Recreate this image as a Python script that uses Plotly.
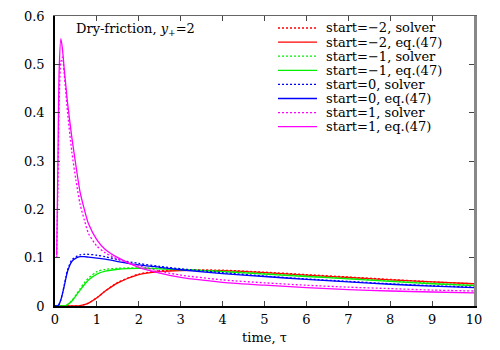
import plotly.graph_objects as go

# ---------------- data ----------------
tau = [0, 0.04, 0.07, 0.1, 0.14, 0.18, 0.22, 0.26, 0.3, 0.4, 0.5, 0.6, 0.7, 0.8,
       1.0, 1.2, 1.5, 2, 2.5, 3, 4, 5, 6, 7, 8, 9, 10]

red_solver = [0, 0, 0, 0, 0, 0, 0, 0, 0, 0, 0, 0.001, 0.003, 0.006, 0.017, 0.031,
              0.049, 0.066, 0.073, 0.075, 0.074, 0.070, 0.065, 0.060, 0.055, 0.050, 0.046]
red_eq47 = [0, 0, 0, 0, 0, 0, 0, 0, 0, 0, 0, 0.001, 0.003, 0.006, 0.017, 0.031,
            0.048, 0.065, 0.071, 0.0735, 0.073, 0.069, 0.064, 0.059, 0.054, 0.050, 0.046]
green_solver = [0, 0, 0, 0, 0, 0, 0, 0.001, 0.003, 0.011, 0.023, 0.036, 0.048, 0.058,
                0.071, 0.076, 0.078, 0.079, 0.078, 0.076, 0.072, 0.067, 0.062, 0.057, 0.052, 0.047, 0.043]
green_eq47 = [0, 0, 0, 0, 0, 0, 0, 0.001, 0.003, 0.010, 0.021, 0.033, 0.044, 0.054,
              0.066, 0.072, 0.076, 0.078, 0.077, 0.075, 0.071, 0.066, 0.061, 0.056, 0.051, 0.046, 0.042]
blue_solver = [0, 0, 0.001, 0.004, 0.013, 0.027, 0.043, 0.060, 0.075, 0.095, 0.102, 0.106,
               0.107, 0.107, 0.105, 0.102, 0.096, 0.088, 0.082, 0.077, 0.069, 0.062, 0.056,
               0.051, 0.046, 0.042, 0.039]
blue_eq47 = [0, 0, 0.001, 0.004, 0.013, 0.026, 0.041, 0.057, 0.072, 0.092, 0.099, 0.102,
             0.102, 0.101, 0.099, 0.097, 0.092, 0.085, 0.080, 0.075, 0.067, 0.061, 0.055,
             0.050, 0.045, 0.041, 0.038]
magenta_solver = [None, 0.10, 0.25, 0.42, 0.505, 0.515, 0.48, 0.44, 0.40, 0.32, 0.26, 0.21,
                  0.178, 0.150, 0.124, 0.110, 0.097, 0.083, 0.072, 0.064, 0.054, 0.048,
                  0.043, 0.039, 0.036, 0.033, 0.031]
magenta_eq47 = [None, 0.105, 0.30, 0.49, 0.553, 0.53, 0.49, 0.455, 0.42, 0.35, 0.29, 0.235,
                0.20, 0.17, 0.137, 0.117, 0.100, 0.080, 0.068, 0.059, 0.049, 0.043, 0.038,
                0.034, 0.031, 0.029, 0.027]

series_names = ["start=\u22122, solver", "start=\u22122, eq.(47)",
                "start=\u22121, solver", "start=\u22121, eq.(47)",
                "start=0, solver", "start=0, eq.(47)",
                "start=1, solver", "start=1, eq.(47)"]
series_values = [red_solver, red_eq47, green_solver, green_eq47,
                 blue_solver, blue_eq47, magenta_solver, magenta_eq47]
series_colors = ["#ff0000", "#ff0000", "#00f000", "#00f000",
                 "#0000ff", "#0000ff", "#ff00ff", "#ff00ff"]
series_dash = ["2px,2px", "solid"] * 4

x_ticks = list(range(0, 11))
y_ticks = [0, 0.1, 0.2, 0.3, 0.4, 0.5, 0.6]
y_tick_labels = ["0", "0.1", "0.2", "0.3", "0.4", "0.5", "0.6"]

title_text = "Dry-friction, <i>y</i><sub>+</sub>=2"
x_title = "time, \u03c4"

FONT = "DejaVu Serif"
FS = 13

fig = go.Figure()
for name, vals, col, dash in zip(series_names, series_values, series_colors, series_dash):
    fig.add_trace(go.Scatter(x=tau, y=vals, mode="lines", name=name,
                             line=dict(color=col, width=1.3, dash=dash,
                                       shape="spline", smoothing=0.7),
                             showlegend=False))
# empty trace so that the mirrored (top/right) frame axes are drawn
fig.add_trace(go.Scatter(x=[None], y=[None], xaxis="x2", yaxis="y2", mode="lines",
                         showlegend=False, hoverinfo="skip"))

# page body has an 8px margin -> figure is 492x342 so that the page is 500x350
OFF = 8
W, H = 500 - OFF, 350 - OFF
ml, mr, mt, mb = 55 - OFF, 26, 16 - OFF, 44
pw, ph = W - ml - mr, H - mt - mb
def px2paper_x(px):
    return (px - OFF - ml) / pw
def py2paper_y(py):
    return (H - mb - (py - OFF)) / ph

leg_top, leg_step = 28, 14.1
shapes = []
annotations = []
for i, (name, col, dash) in enumerate(zip(series_names, series_colors, series_dash)):
    yy = py2paper_y(leg_top + i * leg_step)
    shapes.append(dict(type="line", xref="paper", yref="paper",
                       x0=px2paper_x(278), x1=px2paper_x(317), y0=yy, y1=yy,
                       line=dict(color=col, width=1.3, dash=dash)))
    annotations.append(dict(text=name, xref="paper", yref="paper",
                            x=px2paper_x(324), y=yy, xanchor="left", yanchor="middle",
                            showarrow=False, font=dict(family=FONT, size=FS, color="black")))

annotations.append(dict(text=title_text, xref="paper", yref="paper",
                        x=px2paper_x(74), y=py2paper_y(30), xanchor="left", yanchor="middle",
                        showarrow=False, font=dict(family=FONT, size=FS, color="black")))
# x-axis title
annotations.append(dict(text=x_title, xref="paper", yref="paper",
                        x=0.5, y=py2paper_y(337), xanchor="center", yanchor="middle",
                        showarrow=False, font=dict(family=FONT, size=FS, color="black")))

axis_common = dict(showgrid=False, zeroline=False, ticks="inside", ticklen=5,
                   tickwidth=1, tickcolor="#444", automargin=False)

fig.update_layout(
    width=W, height=H,
    margin=dict(l=ml, r=mr, t=mt, b=mb),
    paper_bgcolor="white", plot_bgcolor="white",
    font=dict(family=FONT, size=FS, color="black"),
    shapes=shapes, annotations=annotations,
    xaxis=dict(range=[0, 10], tickvals=x_ticks, showline=True, linecolor="black",
               linewidth=1.5, ticklabelstandoff=1, **axis_common),
    yaxis=dict(range=[0, 0.6], tickvals=y_ticks, ticktext=y_tick_labels, showline=True,
               linecolor="black", linewidth=1.5, ticklabelstandoff=6, **axis_common),
    xaxis2=dict(range=[0, 10], tickvals=x_ticks, overlaying="x", side="top", anchor="y2",
                showline=True, linecolor="#666", linewidth=1.2, showticklabels=False,
                **axis_common),
    yaxis2=dict(range=[0, 0.6], tickvals=y_ticks, overlaying="y", side="right", anchor="x2",
                showline=True, linecolor="#888", linewidth=2.5, showticklabels=False,
                **axis_common),
)

fig.write_html("out.html")
